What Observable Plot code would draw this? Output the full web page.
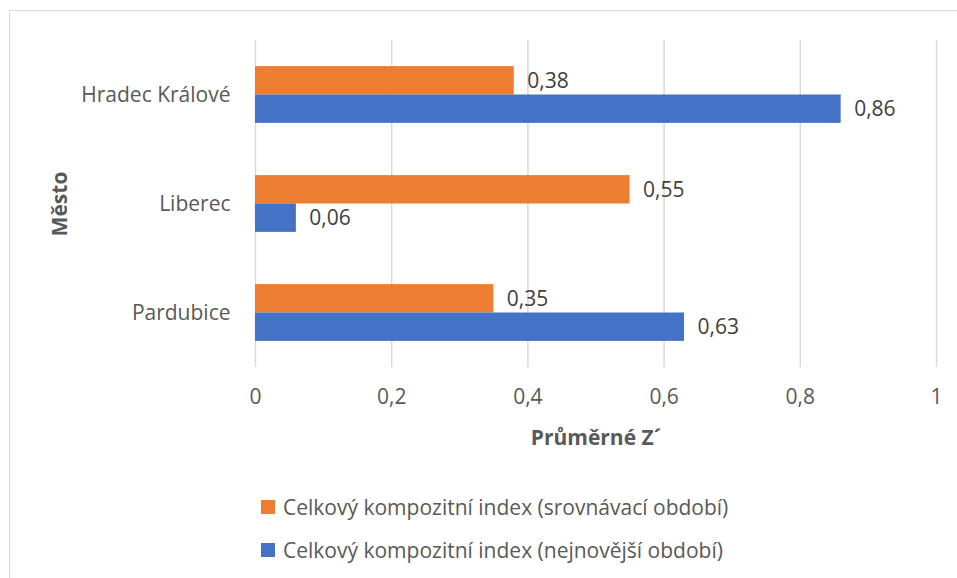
<!DOCTYPE html>
<html>
<head>
<meta charset="utf-8">
<script src="https://cdn.jsdelivr.net/npm/d3@7"></script>
<script src="https://cdn.jsdelivr.net/npm/@observablehq/plot@0.6"></script>
<style>
  body { margin: 0; background: #fff; font-family: "Open Sans", sans-serif; }
  #wrap { position: relative; width: 957px; height: 578px; overflow: hidden; }
  #frame { position: absolute; left: 9px; top: 10px; width: 1000px; height: 640px; border: 1px solid #d9d9d9; box-sizing: border-box; }
  #chart { position: absolute; left: 0; top: 0; }
  #legend { position: absolute; left: 261px; top: 485px; color: #595959; font-size: 21px; }
  .item { display: flex; align-items: center; height: 43px; }
  .sw { width: 14px; height: 14px; margin-right: 8px; }
  svg text { font-family: "Open Sans", sans-serif; }
  g[aria-label="x-axis label"] text, g[aria-label="fy-axis label"] text { font-weight: bold; }
</style>
</head>
<body>
<div id="wrap">
  <div id="frame"></div>
  <div id="chart"></div>
  <div id="legend"></div>
</div>
<script>
const cities = ["Hradec Králové", "Liberec", "Pardubice"];
const seriesNames = ["Celkový kompozitní index (srovnávací období)", "Celkový kompozitní index (nejnovější období)"];
const srovnavaci = [0.38, 0.55, 0.35];
const nejnovejsi = [0.86, 0.06, 0.63];
const xTicks = [0, 0.2, 0.4, 0.6, 0.8, 1];
const colors = ["#ED7D31", "#4472C4"];

const data = [];
cities.forEach((c, i) => {
  data.push({city: c, series: seriesNames[0], value: srovnavaci[i]});
  data.push({city: c, series: seriesNames[1], value: nejnovejsi[i]});
});
const fmt = v => String(v).replace(".", ",");

const chart = Plot.plot({
  width: 957,
  height: 470,
  marginLeft: 255,
  marginRight: 21,
  marginTop: 40,
  marginBottom: 103,
  style: {fontSize: "21px", color: "#595959", background: "transparent"},
  x: {domain: [0, 1], ticks: xTicks, tickFormat: fmt, tickSize: 0, tickPadding: 22,
      label: "Průměrné Z´", labelAnchor: "center", labelArrow: "none", labelOffset: 77},
  fy: {domain: cities, padding: 0, round: false, label: "Město", tickSize: 0, tickPadding: 25, labelAnchor: "center", labelOffset: 203},
  y: {domain: seriesNames, paddingInner: 0, paddingOuter: 0.92, round: false, axis: null},
  color: {domain: seriesNames, range: colors},
  marks: [
    Plot.gridX(xTicks, {stroke: "#d9d9d9", strokeOpacity: 1, strokeWidth: 1.5}),
    Plot.barX(data, {x: "value", y: "series", fy: "city", fill: "series"}),
    Plot.text(data, {x: "value", y: "series", fy: "city", text: d => fmt(d.value),
      textAnchor: "start", dx: 13, fill: "#404040", fontSize: 21})
  ]
});
document.getElementById("chart").append(chart);

const legend = document.getElementById("legend");
seriesNames.forEach((s, i) => {
  const item = document.createElement("div");
  item.className = "item";
  const sw = document.createElement("div");
  sw.className = "sw";
  sw.style.background = colors[i];
  const t = document.createElement("span");
  t.textContent = s;
  item.append(sw, t);
  legend.append(item);
});
</script>
</body>
</html>
